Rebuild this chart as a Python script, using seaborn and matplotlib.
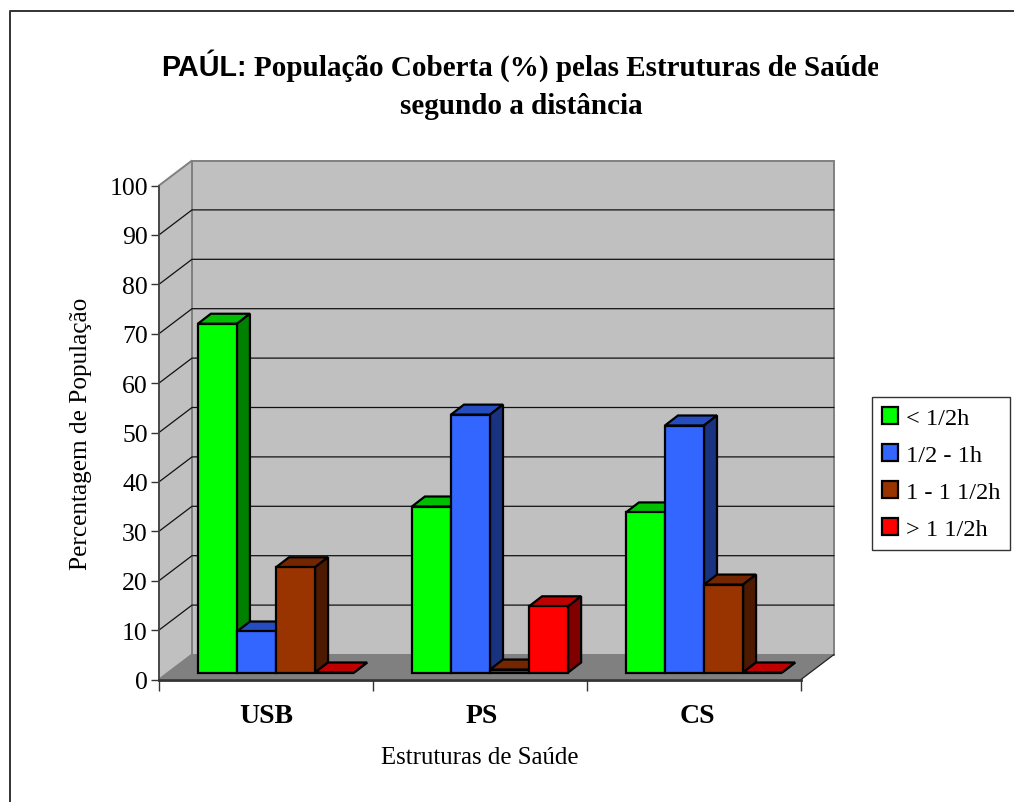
import pandas as pd
import matplotlib.pyplot as plt
import seaborn as sns
from matplotlib.lines import Line2D
from matplotlib.patches import Polygon
from matplotlib.transforms import Affine2D, Bbox, IdentityTransform
from matplotlib.colors import to_rgb

# data
estruturas = ['USB', 'PS', 'CS']
distancias = ['< 1/2h', '1/2 - 1h', '1 - 1 1/2h', '> 1 1/2h']
menos_meia = [70.6, 33.6, 32.4]
meia_uma = [8.3, 52.2, 50.0]
uma_uma_meia = [21.3, 0.6, 17.8]
mais_uma_meia = [0.0, 13.4, 0.0]
cores = ['#00ff00', '#3366ff', '#993300', '#ff0000']

W, H = 1014, 803
DX, DY = 33, 25   # full depth of the 3D box, pixels
BAR_DX, BAR_DY = 10, 7   # front face of the bars inside the box
CAP_DX, CAP_DY = 13, 10   # depth of one bar

sns.set_theme(style='white', rc={'text.color': 'black', 'axes.labelcolor': 'black',
                                 'xtick.color': 'black', 'ytick.color': 'black'})
plt.rcParams['font.family'] = ['Liberation Serif', 'DejaVu Serif']

rows = []
for est, a, b, c, d in zip(estruturas, menos_meia, meia_uma, uma_uma_meia, mais_uma_meia):
    for dist, val in zip(distancias, [a, b, c, d]):
        rows.append({'estrutura': est, 'distancia': dist, 'valor': val})
df = pd.DataFrame(rows)

fig = plt.figure(figsize=(W / 100, H / 100), dpi=100, facecolor='white')
ax = fig.add_axes([159 / W, (H - 680.5) / H, 642 / W, 494 / H])
ax.patch.set_visible(False)

sns.barplot(data=df, x='estrutura', y='valor', hue='distancia', order=estruturas,
            hue_order=distancias, palette=cores, width=0.73, gap=0, saturation=1,
            edgecolor='black', linewidth=1.6, ax=ax)
ax.set_xlim(-0.5, 2.5)
ax.set_ylim(0, 100)


def pt(x, y, dx=0.0, dy=0.0):
    px, py = ax.transData.transform((x, y))
    return (px + dx, py + dy)


def poly(pts, face, edge, lw, z):
    ax.add_patch(Polygon(pts, closed=True, facecolor=face, edgecolor=edge, linewidth=lw,
                         transform=IdentityTransform(), clip_on=False, zorder=z))


# walls and floor
x0, x1 = ax.get_xlim()
poly([pt(x0, 0), pt(x0, 0, DX, DY), pt(x1, 0, DX, DY), pt(x1, 0)], '#808080', 'none', 0, 0.5)
poly([pt(x0, 0, DX, DY), pt(x0, 100, DX, DY), pt(x1, 100, DX, DY), pt(x1, 0, DX, DY)],
     '#c0c0c0', '#808080', 1.4, 0.6)
poly([pt(x0, 0), pt(x0, 100), pt(x0, 100, DX, DY), pt(x0, 0, DX, DY)], '#c0c0c0', '#808080', 1.4, 0.7)
for v in range(10, 100, 10):
    a, b, c = pt(x0, v), pt(x0, v, DX, DY), pt(x1, v, DX, DY)
    ax.add_line(Line2D([a[0], b[0], c[0]], [a[1], b[1], c[1]], color='#111111', lw=0.9,
                       transform=IdentityTransform(), clip_on=False, zorder=0.8))
# right edge of the floor
a, b = pt(x1, 0), pt(x1, 0, DX, DY)
ax.add_line(Line2D([a[0], b[0]], [a[1], b[1]], color='#222222', lw=0.9,
                   transform=IdentityTransform(), clip_on=False, zorder=0.9))

# 3D bars: front face comes from seaborn, top and side are added behind it
offset = Affine2D().translate(BAR_DX, BAR_DY)
bars = []
for cont in ax.containers:
    bars.extend(cont.patches)
bars.sort(key=lambda p: p.get_x())
bx0, by0 = BAR_DX, BAR_DY
bx1, by1 = BAR_DX + CAP_DX, BAR_DY + CAP_DY
for i, p in enumerate(bars):
    z = 3 + i * 0.1
    left, w, h = p.get_x(), p.get_width(), p.get_height()
    r, g, b = to_rgb(p.get_facecolor()[:3])
    top = (r * 0.75, g * 0.75, b * 0.75)
    side = (r * 0.5, g * 0.5, b * 0.5)
    poly([pt(left, h, bx0, by0), pt(left, h, bx1, by1), pt(left + w, h, bx1, by1), pt(left + w, h, bx0, by0)],
         top, 'black', 1.6, z)
    poly([pt(left + w, 0, bx0, by0), pt(left + w, h, bx0, by0), pt(left + w, h, bx1, by1), pt(left + w, 0, bx1, by1)],
         side, 'black', 1.6, z)
    p.set_transform(ax.transData + offset)
    p.set_clip_on(False)
    p.set_zorder(z + 0.05)

# axes
sns.despine(ax=ax, top=True, right=True)
ax.spines['left'].set_color('#404040')
ax.spines['left'].set_linewidth(1.2)
ax.spines['bottom'].set_color('#333333')
ax.spines['bottom'].set_linewidth(2)
ax.set_yticks(range(0, 101, 10))
ax.tick_params(axis='y', left=True, length=6, width=1, color='#333333', labelsize=18.5, pad=2)
ax.set_xticks([x0 + i for i in range(4)], minor=True)
ax.tick_params(axis='x', which='minor', bottom=True, length=8, width=1, color='#333333')
ax.tick_params(axis='x', which='major', bottom=False, length=0, pad=17)
for lab, shift in zip(ax.get_xticklabels(), [0, 2, 3]):
    lab.set_fontsize(20)
    lab.set_fontweight('bold')
    lab.set_transform(lab.get_transform() + Affine2D().translate(shift, 0))
ax.set_ylabel('Percentagem de População', fontsize=18.2)
ax.yaxis.set_label_coords((81 - 159) / 642, 0.5)
ax.set_xlabel('Estruturas de Saúde', fontsize=17.9)
ax.xaxis.set_label_coords(0.5, -(758 - 680) / 494)
ax.xaxis.label.set_verticalalignment('center')
ax.yaxis.label.set_verticalalignment('center')

# legend
handles, labels = ax.get_legend_handles_labels()
leg = ax.legend(handles, labels, loc='upper left', bbox_to_anchor=(872 / W, 1 - 398 / H),
                bbox_transform=fig.transFigure, borderaxespad=0, fontsize=17.6, frameon=True,
                fancybox=False, edgecolor='#333333', framealpha=1, handlelength=0.68,
                handleheight=0.68, handletextpad=0.3, labelspacing=0.62, borderpad=0.4)
leg.get_frame().set_linewidth(1)
leg.set_zorder(10)

# title: the chart box cuts the first line at the right
t1 = fig.text(161 / W, 1 - 75.5 / H, 'PAÚL:', family='Liberation Sans', fontweight='bold',
              fontsize=20.7, va='baseline', ha='left')
t2 = fig.text(254 / W, 1 - 75.5 / H, 'População Coberta (%) pelas Estruturas de Saúde',
              fontweight='bold', fontsize=21, va='baseline', ha='left')
t2.set_clip_box(Bbox([[0, 0], [878, H]]))
t2.set_clip_on(True)
fig.text(521 / W, 1 - 113.5 / H, 'segundo a distância', fontweight='bold', fontsize=21,
         va='baseline', ha='center')

# outer chart border
fig.add_artist(Line2D([10 / W, 10 / W, 1], [0, 1 - 12 / H, 1 - 12 / H], color='#333333', lw=1.4))

fig.savefig('out.png', dpi=100)
